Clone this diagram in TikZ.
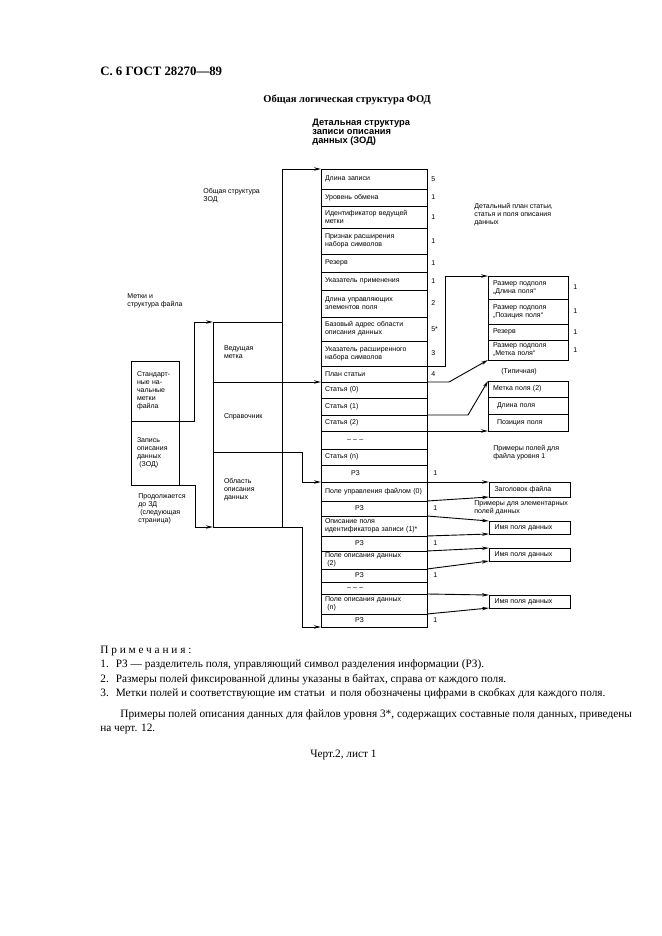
\documentclass[tikz,border=0pt]{standalone}
\usepackage{fontspec}
\setmainfont{Liberation Serif}
\setsansfont{Liberation Sans}
\usetikzlibrary{arrows.meta,positioning}

\newcommand{\rz}[1][30pt]{\hspace*{#1}РЗ}
\newcommand{\gap}{\hspace*{22pt}– – –}

\begin{document}
\begin{tikzpicture}[
  x=1pt, y=-1pt,
  font=\sffamily\fontsize{7}{8}\selectfont,
  >={Stealth[length=7pt,width=3.4pt]},
  line width=0.7pt,
  cell/.style={draw, outer sep=0pt, inner xsep=4pt, inner ysep=0pt, text width=98pt, minimum width=106pt, align=left},
  part/.style={draw, outer sep=0pt, inner xsep=11pt, inner ysep=0pt, text width=47pt, minimum width=69pt, align=left},
  file/.style={draw, outer sep=0pt, inner xsep=6pt, inner ysep=0pt, text width=36pt, minimum width=48pt, align=left},
  sub/.style={draw, outer sep=0pt, inner xsep=5pt, inner ysep=0pt, text width=70pt, minimum width=80pt, align=left},
  num/.style={inner sep=0pt},
  lbl/.style={inner sep=0pt, anchor=west, align=left},
  note/.style={inner sep=0pt, anchor=west, font=\rmfamily\fontsize{11.3}{13}\selectfont},
  arr/.style={->, line width=0.9pt}
]
\useasboundingbox (0,0) rectangle (661,936);

% page head
\node[lbl, font=\rmfamily\bfseries\fontsize{12.8}{14}\selectfont] (page) at (100,71) {С. 6 ГОСТ 28270—89};
\node[lbl, font=\rmfamily\bfseries\fontsize{10.5}{12}\selectfont] (title) at (263,100) {Общая логическая структура ФОД};
\node[lbl, font=\sffamily\bfseries\fontsize{9.3}{9}\selectfont] (dethead) at (312,132) {Детальная структура\\записи описания\\данных (ЗОД)};

% file
\node[file, anchor=north west, minimum height=60pt] (std) at (131,361) {Стандарт-\\ные на-\\чальные\\метки\\файла};
\node[file, below=0pt of std, minimum height=64pt] (zod) {Запись\\описания\\данных\\\ (ЗОД)};
\node[lbl] (tags) at (127,301) {Метки и\\структура файла};
\node[lbl] (cont) at (138,509) {Продолжается\\до ЗД\\\ (следующая\\страница)};

% general structure of the record
\node[part, anchor=north west, minimum height=60pt] (lead) at (213,322) {Ведущая\\метка};
\node[part, below=0pt of lead, minimum height=70pt] (dir) {Справочник};
\node[part, below=0pt of dir, minimum height=75pt] (area) {Область\\описания\\данных};
\node[lbl] (genhead) at (203,196) {Общая структура\\ЗОД};

% detailed structure
\node[cell, anchor=north west, minimum height=20pt] (r1) at (321,169) {Длина записи};
\node[cell, below=0pt of r1, minimum height=17pt] (r2) {Уровень обмена};
\node[cell, below=0pt of r2, minimum height=22pt] (r3) {Идентификатор ведущей\\метки};
\node[cell, below=0pt of r3, minimum height=26pt] (r4) {Признак расширения\\набора символов};
\node[cell, below=0pt of r4, minimum height=18pt] (r5) {Резерв};
\node[cell, below=0pt of r5, minimum height=18pt] (r6) {Указатель применения};
\node[cell, below=0pt of r6, minimum height=27pt] (r7) {Длина управляющих\\элементов поля};
\node[cell, below=0pt of r7, minimum height=24pt] (r8) {Базовый адрес области\\описания данных};
\node[cell, below=0pt of r8, minimum height=25pt] (r9) {Указатель расширенного\\набора символов};
\node[cell, below=0pt of r9, minimum height=16pt] (r10) {План статьи};
\node[cell, below=0pt of r10, minimum height=16pt] (r11) {Статья (0)};
\node[cell, below=0pt of r11, minimum height=17pt] (r12) {Статья (1)};
\node[cell, below=0pt of r12, minimum height=16pt] (r13) {Статья (2)};
\node[cell, below=0pt of r13, minimum height=18pt] (r14) {\gap};
\node[cell, below=0pt of r14, minimum height=16pt] (r15) {Статья (n)};
\node[cell, below=0pt of r15, minimum height=17pt] (r16) {\rz[26pt]};
\node[cell, below=0pt of r16, minimum height=19pt] (r17) {Поле управления файлом (0)};
\node[cell, below=0pt of r17, minimum height=15pt] (r18) {\rz};
\node[cell, below=0pt of r18, minimum height=20pt] (r19) {Описание поля\\идентификатора записи (1)*};
\node[cell, below=0pt of r19, minimum height=15pt] (r20) {\rz};
\node[cell, below=0pt of r20, minimum height=18pt] (r21) {Поле описания данных\\\ (2)};
\node[cell, below=0pt of r21, minimum height=13pt] (r22) {\rz};
\node[cell, below=0pt of r22, minimum height=12pt] (r23) {\gap};
\node[cell, below=0pt of r23, minimum height=20pt] (r24) {Поле описания данных\\\ (n)};
\node[cell, below=0pt of r24, minimum height=13pt] (r25) {\rz};

\node[num, right=4pt of r1] (n1) {5};
\node[num, right=4pt of r2] (n2) {1};
\node[num, right=4pt of r3] (n3) {1};
\node[num, right=4pt of r4] (n4) {1};
\node[num, right=4pt of r5] (n5) {1};
\node[num, right=4pt of r6] (n6) {1};
\node[num, right=4pt of r7] (n7) {2};
\node[num, right=4pt of r8] (n8) {5*};
\node[num, right=4pt of r9] (n9) {3};
\node[num, right=4pt of r10] (n10) {4};
\node[num, right=6pt of r16] (n16) {1};
\node[num, right=6pt of r18] (n18) {1};
\node[num, right=6pt of r20] (n20) {1};
\node[num, right=6pt of r22] (n22) {1};
\node[num, right=6pt of r25] (n25) {1};

% detailed entry map, entry and fields
\node[lbl] (planhead) at (474,215) {Детальный план статьи,\\статья и поля описания\\данных};
\node[sub, anchor=north west, minimum height=23pt] (p1) at (488,276) {Размер подполя\\„Длина поля“};
\node[sub, below=0pt of p1, minimum height=25pt] (p2) {Размер подполя\\„Позиция поля“};
\node[sub, below=0pt of p2, minimum height=16pt] (p3) {Резерв};
\node[sub, below=0pt of p3, minimum height=20pt] (p4) {Размер подполя\\„Метка поля“};
\node[num, right=5pt of p1] (q1) {1};
\node[num, right=5pt of p2] (q2) {1};
\node[num, right=5pt of p3] (q3) {1};
\node[num, right=5pt of p4] (q4) {1};
\node[lbl] (typ) at (501,372) {(Типичная)};

\node[sub, anchor=north west, minimum height=16pt] (e1) at (488,381) {Метка поля (2)};
\node[sub, below=0pt of e1, minimum height=17pt] (e2) {\hspace*{4pt}Длина поля};
\node[sub, below=0pt of e2, minimum height=17pt] (e3) {\hspace*{4pt}Позиция поля};
\node[lbl] (ex1head) at (493,453) {Примеры полей для\\файла уровня 1};

\node[sub, anchor=north west, minimum width=81pt, minimum height=15pt] (hdr) at (489,482) {Заголовок файла};
\node[lbl] (ex2head) at (474,508) {Примеры для элементарных\\полей данных};
\node[sub, anchor=north west, minimum width=81pt, minimum height=13pt] (nm1) at (489,521) {Имя поля данных};
\node[sub, anchor=north west, minimum width=81pt, minimum height=13pt] (nm2) at (489,548) {Имя поля данных};
\node[sub, anchor=north west, minimum width=81pt, minimum height=13pt] (nm3) at (489,595) {Имя поля данных};

% connectors
\draw[arr] (std.south east) -- ++(15,0) |- (lead.north west);
\draw[arr] (zod.south east) -- ++(16,0) |- (area.south west);
\draw[arr] (lead.north east) |- (r1.north west);
\draw[arr] (lead.south east) -- (r10.south west);
\draw[arr] (dir.south east) -- ++(20,0) |- (r16.south west);
\draw[arr] (area.south east) -- ++(20,0) |- (r25.south west);

\draw[arr] (r9.south east) -- ++(18,0) |- (p1.north west);
\draw[arr] (r10.south east) -- ++(22,0) -- (p4.south west);
\draw[arr] (r13.north east) -- ++(41,0) -- (e1.north west);
\draw[arr] (r13.south east) -- (e3.south west);
\draw[arr] (r17.north east) -- (hdr.north west);
\draw[arr] (r17.south east) -- (hdr.south west);
\draw[arr] (r19.north east) -- (nm1.north west);
\draw[arr] (r19.south east) -- (nm1.south west);
\draw[arr] (r21.north east) -- (nm2.north west);
\draw[arr] (r21.south east) -- (nm2.south west);
\draw[arr] (r24.north east) -- (nm3.north west);
\draw[arr] (r24.south east) -- (nm3.south west);

% notes
\node[note] (prim) at (100,651) {\addfontfeature{LetterSpace=25}Примечания:};
\node[note] (note1) at (100,665) {1.\hspace{7pt}РЗ — разделитель поля, управляющий символ разделения информации (РЗ).};
\node[note] (note2) at (100,680) {2.\hspace{7pt}Размеры полей фиксированной длины указаны в байтах, справа от каждого поля.};
\node[note] (note3) at (100,694) {3.\hspace{7pt}Метки полей и соответствующие им статьи\ \ и поля обозначены цифрами в скобках для каждого поля.};
\node[note] (more1) at (120,715) {Примеры полей описания данных для файлов уровня 3*, содержащих составные поля данных, приведены};
\node[note] (more2) at (100,729) {на черт. 12.};
\node[note] (sheet) at (310,755) {Черт.2, лист 1};
\end{tikzpicture}
\end{document}
